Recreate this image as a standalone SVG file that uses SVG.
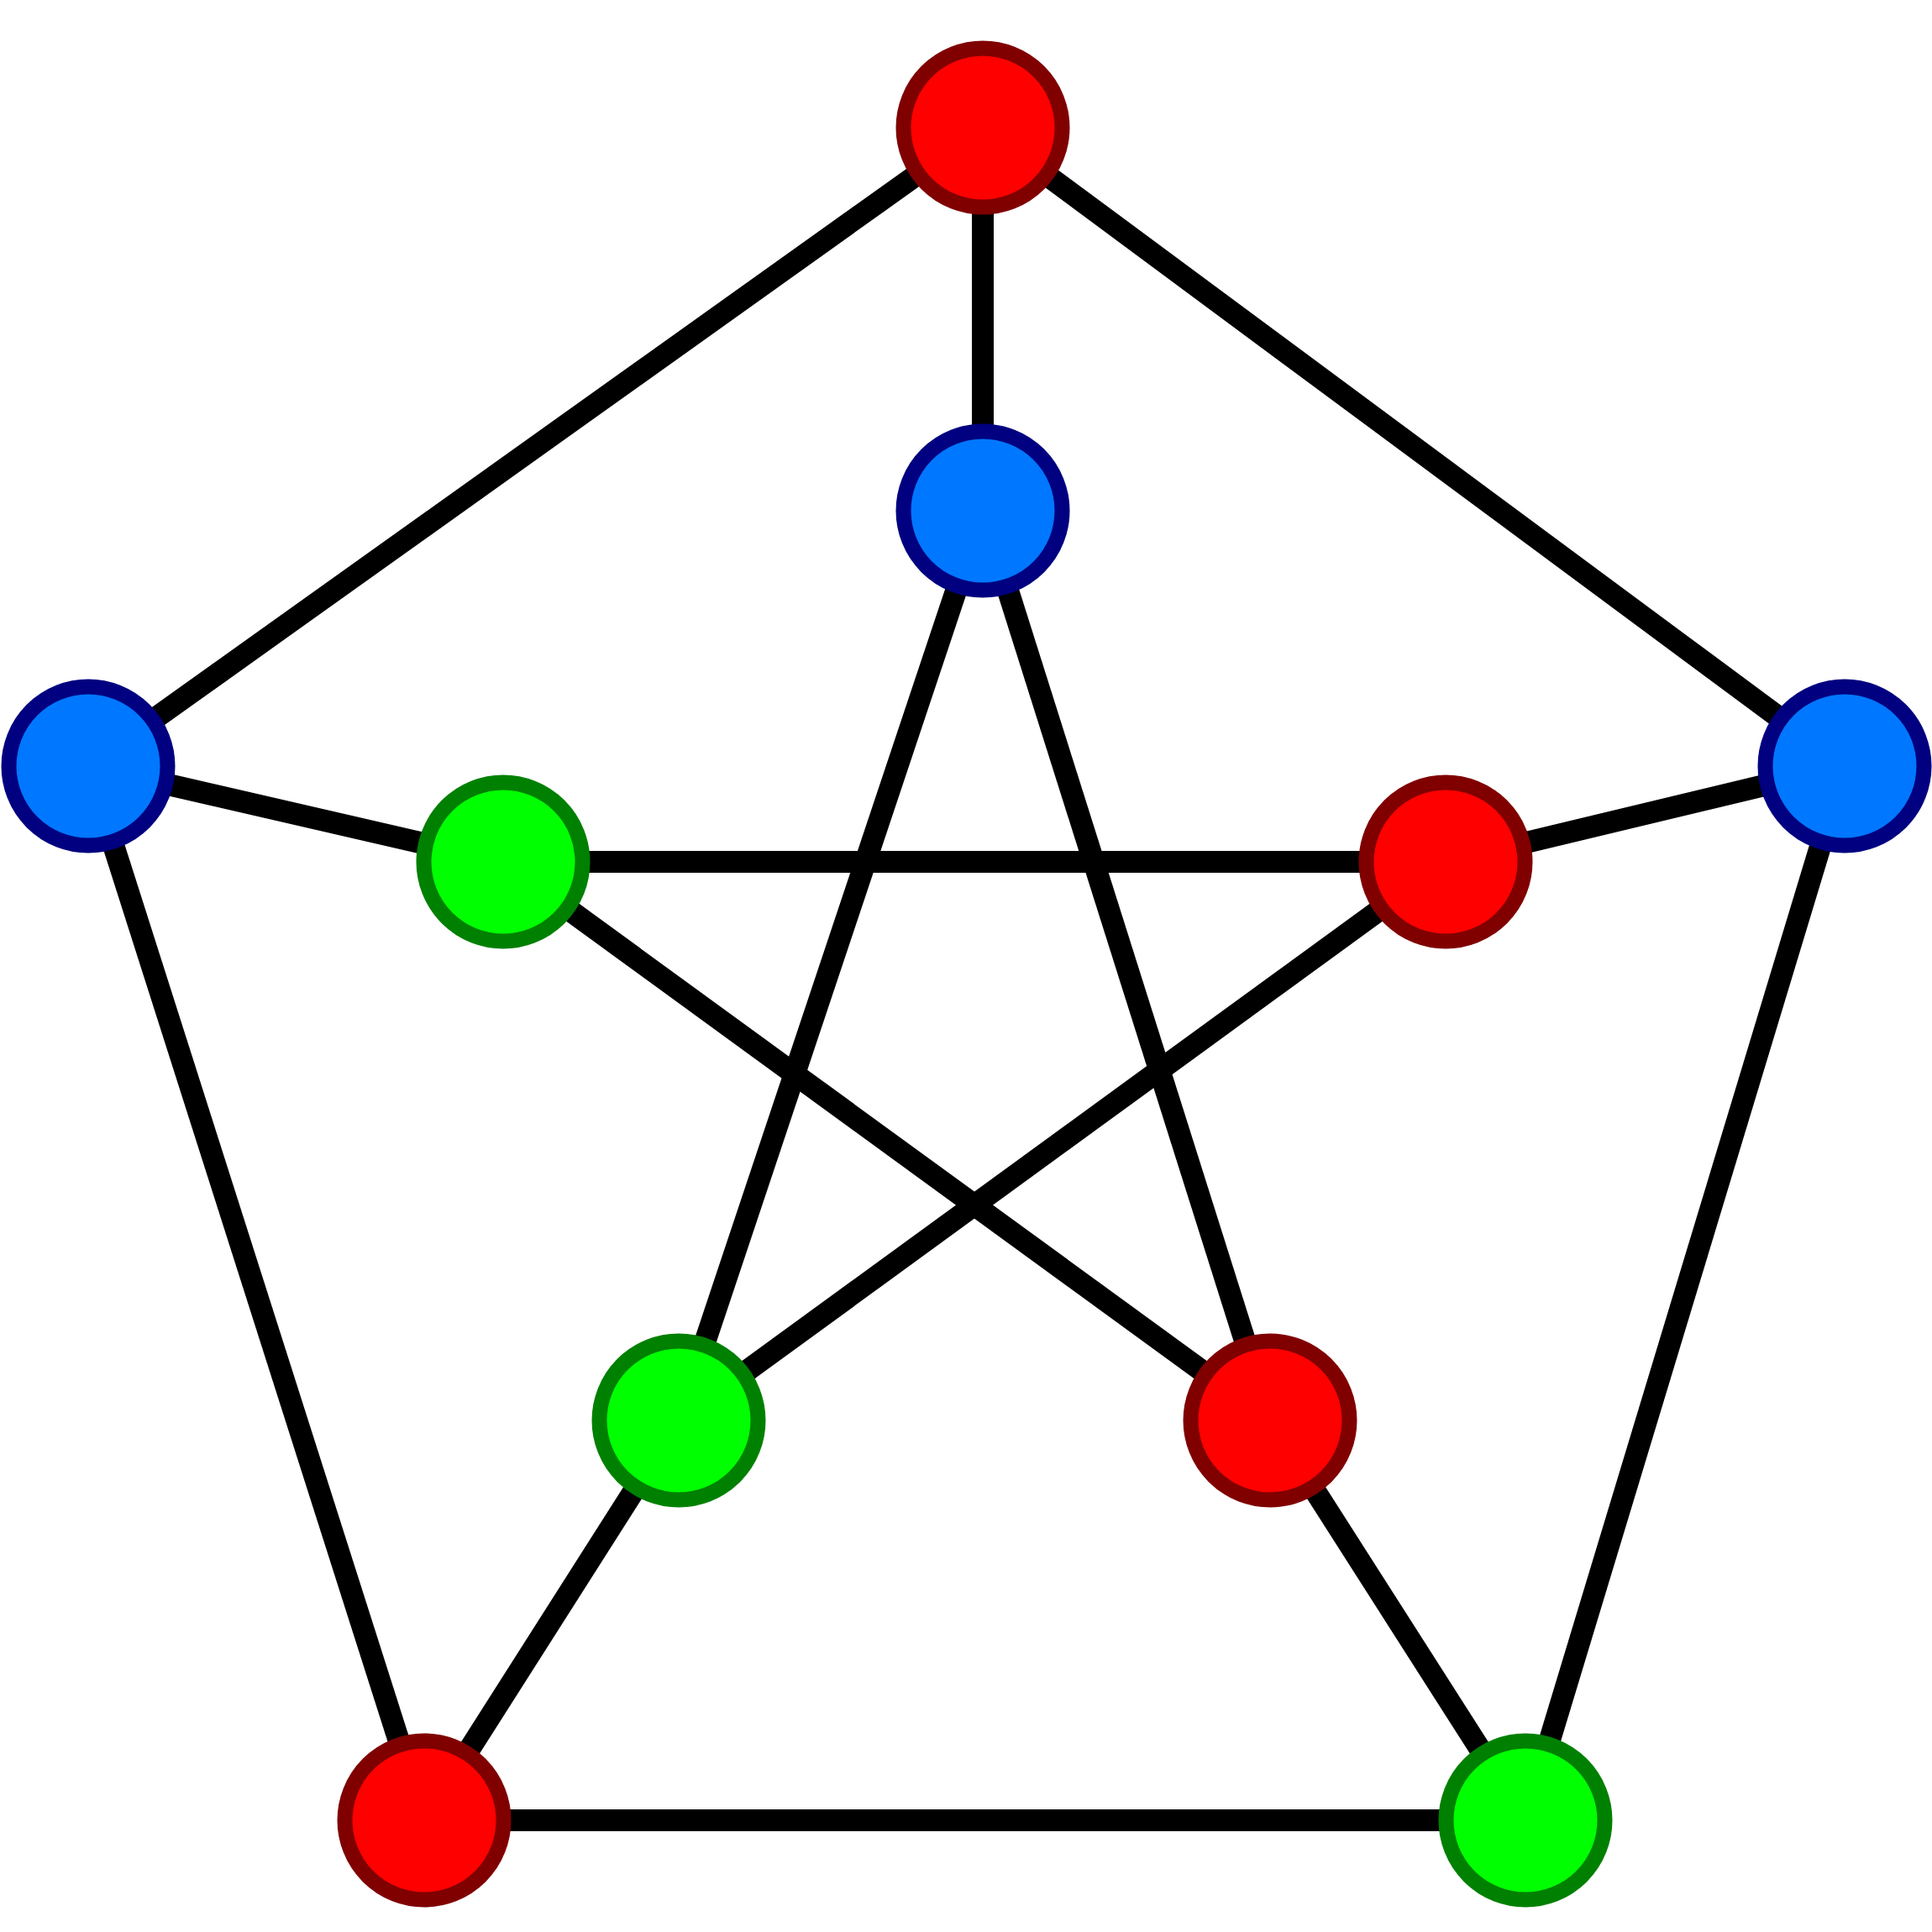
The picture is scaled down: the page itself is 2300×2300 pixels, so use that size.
<svg xmlns="http://www.w3.org/2000/svg" width="2300" height="2300" viewBox="0 0 2300 2300">
<style>
.e{stroke:#000;stroke-width:26;fill:none}
.r{fill:#FF0000;stroke:#800000;stroke-width:18}
.b{fill:#0077FF;stroke:#000080;stroke-width:18}
.g{fill:#00FF00;stroke:#008000;stroke-width:18}
</style>
<rect width="2300" height="2300" fill="#fff"/>
<g id="edges">
<line class="e" x1="1170" y1="152" x2="105" y2="912"/>
<line class="e" x1="1170" y1="152" x2="2196" y2="912"/>
<line class="e" x1="105" y1="912" x2="505" y2="2167"/>
<line class="e" x1="2196" y1="912" x2="1816" y2="2167"/>
<line class="e" x1="505" y1="2167" x2="1816" y2="2167"/>
<line class="e" x1="1170" y1="152" x2="1170" y2="608"/>
<line class="e" x1="105" y1="912" x2="599" y2="1026"/>
<line class="e" x1="2196" y1="912" x2="1721" y2="1026"/>
<line class="e" x1="505" y1="2167" x2="808" y2="1691"/>
<line class="e" x1="1816" y1="2167" x2="1512" y2="1691"/>
<line class="e" x1="1170" y1="608" x2="808" y2="1691"/>
<line class="e" x1="1170" y1="608" x2="1512" y2="1691"/>
<line class="e" x1="599" y1="1026" x2="1721" y2="1026"/>
<line class="e" x1="599" y1="1026" x2="1512" y2="1691"/>
<line class="e" x1="1721" y1="1026" x2="808" y2="1691"/>
</g>
<g id="n0"><circle class="r" cx="1170" cy="152" r="94.5"/></g>
<g id="n1"><circle class="b" cx="105" cy="912" r="94.5"/></g>
<g id="n2"><circle class="b" cx="2196" cy="912" r="94.5"/></g>
<g id="n3"><circle class="r" cx="505" cy="2167" r="94.5"/></g>
<g id="n4"><circle class="g" cx="1816" cy="2167" r="94.5"/></g>
<g id="n5"><circle class="b" cx="1170" cy="608" r="94.5"/></g>
<g id="n6"><circle class="g" cx="599" cy="1026" r="94.5"/></g>
<g id="n7"><circle class="r" cx="1721" cy="1026" r="94.5"/></g>
<g id="n8"><circle class="g" cx="808" cy="1691" r="94.5"/></g>
<g id="n9"><circle class="r" cx="1512" cy="1691" r="94.5"/></g>
</svg>
